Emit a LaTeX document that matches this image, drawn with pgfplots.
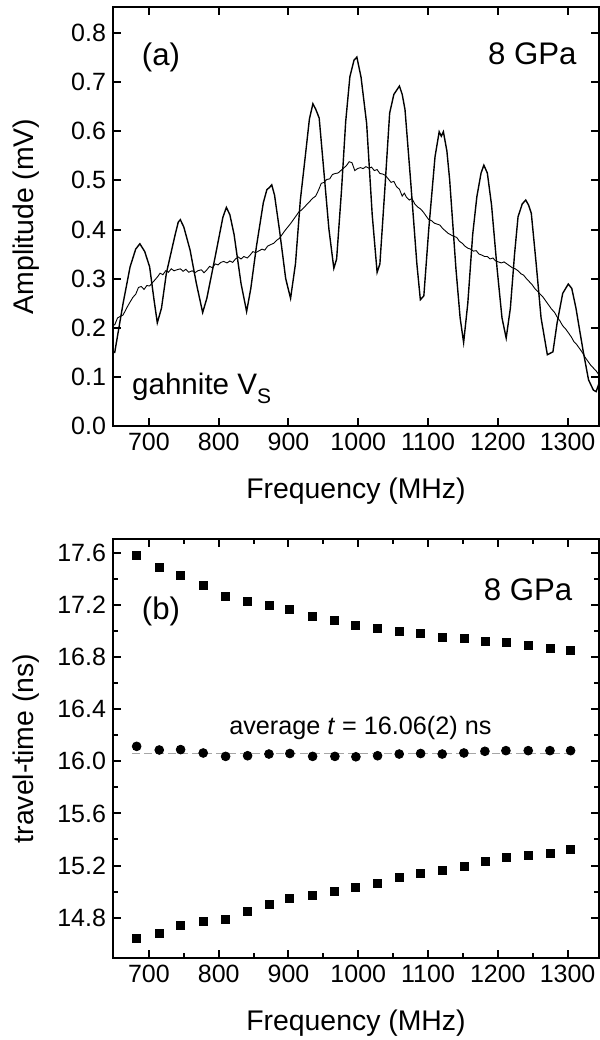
\documentclass[border=0pt]{standalone}
\usepackage{fontspec}
\setmainfont{Liberation Sans}
\usepackage{pgfplots}
\pgfplotsset{compat=1.18}

\pgfplotsset{
  panel/.style={
    scale only axis,
    width=243pt, height=209.5pt,
    xmin=648.5, xmax=1345,
    xtick={700,800,...,1300},
    axis line style={line width=1pt},
    tick align=inside,
    tick pos=both,
    major tick length=4pt,
    minor tick length=2.5pt,
    every tick/.style={black, line width=1pt},
    tick label style={font=\fontsize{12.5}{14}\selectfont},
    /pgf/number format/assume math mode=true,
    /pgf/number format/1000 sep={},
    y tick label style={/pgf/number format/.cd, fixed, fixed zerofill, precision=1},
    label style={font=\fontsize{14.2}{17}\selectfont},
    xlabel={Frequency (MHz)},
    xlabel style={at={(axis description cs:0.5,-0.1742)}, anchor=base},
    ylabel style={at={(axis description cs:-0.1646,0.5)}, anchor=base},
  },
}

\begin{document}
\begin{tikzpicture}
\useasboundingbox (0,0) rectangle (300pt,520pt);

% (a) spectra
\begin{axis}[panel, at={(56.5pt,307pt)}, anchor=south west,
    ymin=0, ymax=0.853,
    ytick={0,0.1,...,0.8},
    ylabel={Amplitude (mV)}]

\addplot[black, line width=0.7pt] coordinates {
 (648.5,0.150) (651,0.150) (663,0.250) (673,0.324) (681,0.360) (687,0.371)
 (694,0.355) (701,0.324) (707,0.260) (712,0.210) (718,0.240) (725,0.311)
 (737,0.386) (742,0.415) (745,0.420) (750,0.405) (759,0.358) (768,0.290)
 (777,0.231) (783,0.260) (795,0.345) (806,0.425) (811,0.445) (816,0.430)
 (822,0.390) (832,0.290) (840,0.233) (846,0.280) (854,0.365) (864,0.455)
 (869,0.481) (873,0.486) (876,0.491) (880,0.470) (887,0.400) (896,0.300)
 (903,0.260) (910,0.330) (917,0.460) (924,0.548) (930,0.625) (935,0.656)
 (939,0.645) (944,0.627) (950,0.530) (958,0.400) (965,0.321) (969,0.340)
 (976,0.480) (982,0.620) (988,0.711) (994,0.745) (998,0.751) (1004,0.710)
 (1012,0.616) (1020,0.430) (1027,0.313) (1031,0.330) (1038,0.480) (1045,0.637)
 (1051,0.675) (1059,0.692) (1063,0.675) (1067,0.644) (1075,0.500) (1084,0.330)
 (1089,0.257) (1094,0.265) (1101,0.400) (1110,0.548) (1116,0.599) (1119,0.590)
 (1122,0.599) (1127,0.560) (1131,0.501) (1140,0.320) (1146,0.220) (1151,0.170)
 (1157,0.250) (1164,0.390) (1170,0.467) (1176,0.515) (1180,0.531) (1185,0.515)
 (1191,0.450) (1199,0.320) (1206,0.220) (1212,0.179) (1218,0.240) (1224,0.350)
 (1229,0.426) (1235,0.452) (1240,0.460) (1244,0.450) (1248,0.433) (1255,0.330)
 (1262,0.220) (1271,0.145) (1279,0.151) (1285,0.210) (1293,0.270) (1301,0.289)
 (1306,0.280) (1312,0.240) (1322,0.155) (1330,0.094) (1337,0.073) (1341,0.070)
 (1345,0.087)
};

\addplot[black, line width=0.45pt] coordinates {
 (648.5,0.205) (651,0.206) (655,0.220) (660,0.224) (663,0.226) (668,0.240)
 (672,0.250) (677,0.262) (681,0.268) (685,0.282) (689,0.284) (693,0.278)
 (697,0.286) (701,0.285) (705,0.292) (709,0.298) (713,0.305) (716,0.311)
 (720,0.308) (724,0.316) (728,0.313) (732,0.320) (736,0.316) (740,0.318)
 (745,0.320) (749,0.315) (753,0.319) (757,0.313) (762,0.316) (766,0.312)
 (770,0.316) (775,0.318) (779,0.312) (783,0.318) (787,0.325) (791,0.322)
 (795,0.330) (799,0.328) (803,0.333) (807,0.335) (812,0.332) (816,0.336)
 (820,0.333) (824,0.340) (828,0.344) (832,0.340) (836,0.345) (841,0.342)
 (845,0.348) (849,0.355) (853,0.353) (857,0.356) (862,0.360) (866,0.358)
 (870,0.366) (874,0.369) (879,0.372) (883,0.378) (887,0.382) (891,0.390)
 (895,0.398) (899,0.405) (903,0.412) (907,0.420) (911,0.428) (915,0.436)
 (919,0.440) (923,0.446) (927,0.452) (931,0.458) (935,0.464) (939,0.468)
 (943,0.480) (947,0.494) (951,0.496) (955,0.502) (959,0.503) (963,0.512)
 (967,0.514) (971,0.515) (975,0.520) (979,0.525) (983,0.530) (987,0.538)
 (991,0.536) (995,0.520) (999,0.524) (1003,0.526) (1007,0.524) (1011,0.528)
 (1015,0.525) (1019,0.527) (1023,0.520) (1027,0.522) (1031,0.514) (1035,0.513)
 (1039,0.510) (1043,0.503) (1047,0.496) (1051,0.498) (1055,0.487) (1059,0.482)
 (1063,0.468) (1066,0.474) (1069,0.466) (1073,0.460) (1077,0.463) (1081,0.452)
 (1085,0.446) (1089,0.442) (1093,0.436) (1097,0.428) (1101,0.420) (1105,0.418)
 (1109,0.413) (1113,0.411) (1117,0.409) (1121,0.402) (1125,0.397) (1129,0.392)
 (1133,0.389) (1137,0.386) (1141,0.384) (1145,0.376) (1149,0.372) (1153,0.366)
 (1157,0.362) (1161,0.360) (1165,0.356) (1169,0.357) (1173,0.350) (1177,0.348)
 (1181,0.345) (1185,0.345) (1189,0.340) (1193,0.342) (1197,0.336) (1201,0.334)
 (1205,0.332) (1209,0.334) (1213,0.330) (1217,0.326) (1221,0.322) (1225,0.320)
 (1229,0.316) (1233,0.310) (1237,0.307) (1241,0.300) (1245,0.294) (1249,0.288)
 (1253,0.280) (1257,0.274) (1261,0.268) (1265,0.262) (1269,0.254) (1273,0.246)
 (1277,0.238) (1281,0.232) (1285,0.222) (1289,0.214) (1293,0.204) (1297,0.198)
 (1301,0.190) (1305,0.182) (1309,0.172) (1313,0.166) (1317,0.158) (1321,0.150)
 (1325,0.140) (1329,0.132) (1333,0.124) (1337,0.118) (1341,0.112) (1345,0.104)
};

\node[anchor=base, inner sep=0, font=\fontsize{15.6}{18}\selectfont]
  at (rel axis cs:0.0988,0.86) {(a)};
\node[anchor=base east, inner sep=0, font=\fontsize{15.6}{18}\selectfont]
  at (rel axis cs:0.9547,0.8616) {8 GPa};
\node[anchor=base west, inner sep=0, font=\fontsize{14.8}{18}\selectfont]
  at (rel axis cs:0.0385,0.074) {gahnite V\raisebox{-4.5pt}{\fontsize{10.5}{12}\selectfont S}};
\end{axis}

% (b) travel times
\begin{axis}[panel, at={(56.5pt,41pt)}, anchor=south west,
    ymin=14.49, ymax=17.707,
    ytick={14.8,15.2,...,17.6},
    minor x tick num=1, minor y tick num=1,
    ylabel={travel-time (ns)}]

\addplot[gray!70, line width=0.5pt, dash pattern=on 4pt off 2pt] coordinates {
 (676,16.06) (1310,16.06)
};

\addplot[only marks, mark=square*, mark size=2pt, black] coordinates {
 (682.4,17.58) (714.8,17.49) (745.4,17.43) (777.8,17.35) (809.9,17.27)
 (841.4,17.23) (872.0,17.20) (902.0,17.17) (934.6,17.11) (966.5,17.08)
 (996.6,17.04) (1027.7,17.02) (1058.7,17.00) (1089.4,16.98) (1120.3,16.95)
 (1151.4,16.94) (1181.5,16.92) (1211.6,16.91) (1243.6,16.89) (1274.7,16.87)
 (1304.3,16.85)
};

\addplot[only marks, mark=square*, mark size=2pt, black] coordinates {
 (682.4,14.64) (714.8,14.68) (745.4,14.74) (777.8,14.77) (809.9,14.79)
 (841.4,14.85) (872.0,14.90) (902.0,14.95) (934.6,14.97) (966.5,15.00)
 (996.6,15.03) (1027.7,15.06) (1058.7,15.11) (1089.4,15.14) (1120.3,15.16)
 (1151.4,15.19) (1181.5,15.23) (1211.6,15.26) (1243.6,15.28) (1274.7,15.29)
 (1304.3,15.32)
};

\addplot[only marks, mark=*, mark size=2.2pt, black] coordinates {
 (682.4,16.115) (714.8,16.087) (745.4,16.090) (777.8,16.064) (809.9,16.038)
 (841.4,16.043) (872.0,16.056) (902.0,16.060) (934.6,16.038) (966.5,16.038)
 (996.6,16.035) (1027.7,16.043) (1058.7,16.056) (1089.4,16.060) (1120.3,16.056)
 (1151.4,16.064) (1181.5,16.077) (1211.6,16.082) (1243.6,16.082) (1274.7,16.082)
 (1304.3,16.082)
};

\node[anchor=base, inner sep=0, font=\fontsize{15.6}{18}\selectfont]
  at (rel axis cs:0.0988,0.807) {(b)};
\node[anchor=base east, inner sep=0, font=\fontsize{15.6}{18}\selectfont]
  at (rel axis cs:0.946,0.854) {8 GPa};
\node[anchor=base, inner sep=0, font=\fontsize{12.6}{15}\selectfont]
  at (rel axis cs:0.509,0.5346) {average \textit{t} = 16.06(2) ns};
\end{axis}
\end{tikzpicture}
\end{document}
